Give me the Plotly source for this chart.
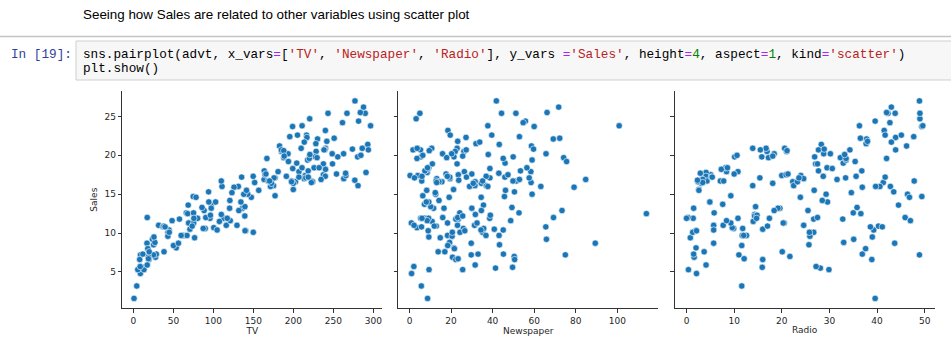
import plotly.graph_objects as go

# ---------------- data (advertising dataset) ----------------
TV = [230.1,44.5,17.2,151.5,180.8,8.7,57.5,120.2,8.6,199.8,
      66.1,214.7,23.8,97.5,204.1,195.4,67.8,281.4,69.2,147.3,
      218.4,237.4,13.2,228.3,62.3,262.9,142.9,240.1,248.8,70.6,
      292.9,112.9,97.2,265.6,95.7,290.7,266.9,74.7,43.1,228,
      202.5,177,293.6,206.9,25.1,175.1,89.7,239.9,227.2,66.9,
      199.8,100.4,216.4,182.6,262.7,198.9,7.3,136.2,210.8,210.7,
      53.5,261.3,239.3,102.7,131.1,69,31.5,139.3,237.4,216.8,
      199.1,109.8,26.8,129.4,213.4,16.9,27.5,120.5,5.4,116,
      76.4,239.8,75.3,68.4,213.5,193.2,76.3,110.7,88.3,109.8,
      134.3,28.6,217.7,250.9,107.4,163.3,197.6,184.9,289.7,135.2,
      222.4,296.4,280.2,187.9,238.2,137.9,25,90.4,13.1,255.4,
      225.8,241.7,175.7,209.6,78.2,75.1,139.2,76.4,125.7,19.4,
      141.3,18.8,224,123.1,229.5,87.2,7.8,80.2,220.3,59.6,
      0.7,265.2,8.4,219.8,36.9,48.3,25.6,273.7,43,184.9,
      73.4,193.7,220.5,104.6,96.2,140.3,240.1,243.2,38,44.7,
      280.7,121,197.6,171.3,187.8,4.1,93.9,149.8,11.7,131.7,
      172.5,85.7,188.4,163.5,117.2,234.5,17.9,206.8,215.4,284.3,
      50,164.5,19.6,168.4,222.4,276.9,248.4,170.2,276.7,165.6,
      156.6,218.5,56.2,287.6,253.8,205,139.5,191.1,286,18.7,
      39.5,75.5,17.2,166.8,149.7,38.2,94.2,177,283.6,232.1]

Radio = [37.8,39.3,45.9,41.3,10.8,48.9,32.8,19.6,2.1,2.6,
         5.8,24,35.1,7.6,32.9,47.7,36.6,39.6,20.5,23.9,
         27.7,5.1,15.9,16.9,12.6,3.5,29.3,16.7,27.1,16,
         28.3,17.4,1.5,20,1.4,4.1,43.8,49.4,26.7,37.7,
         22.3,33.4,27.7,8.4,25.7,22.5,9.9,41.5,15.8,11.7,
         3.1,9.6,41.7,46.2,28.8,49.4,28.1,19.2,49.6,29.5,
         2,42.7,15.5,29.6,42.8,9.3,24.6,14.5,27.5,43.9,
         30.6,14.3,33,5.7,24.6,43.7,1.6,28.5,29.9,7.7,
         26.7,4.1,20.3,44.5,43,18.4,27.5,40.6,25.5,47.8,
         4.9,1.5,33.5,36.5,14,31.6,3.5,21,42.3,41.7,
         4.3,36.3,10.1,17.2,34.3,46.4,11,0.3,0.4,26.9,
         8.2,38,15.4,20.6,46.8,35,14.3,0.8,36.9,16,
         26.8,21.7,2.4,34.6,32.3,11.8,38.9,0,49,12,
         39.6,2.9,27.2,33.5,38.6,47,39,28.9,25.9,43.9,
         17,35.4,33.2,5.7,14.8,1.9,7.3,49,40.3,25.8,
         13.9,8.4,23.3,39.7,21.1,11.6,43.5,1.3,36.9,18.4,
         18.1,35.8,18.1,36.8,14.7,3.4,37.6,5.2,23.6,10.6,
         11.6,20.9,20.1,7.1,3.4,48.9,30.2,7.8,2.3,10,
         2.6,5.4,5.7,43,21.3,45.1,2.1,28.7,13.9,12.1,
         41.1,10.8,4.1,42,35.6,3.7,4.9,9.3,42,8.6]

Newspaper = [69.2,45.1,69.3,58.5,58.4,75,23.5,11.6,1,21.2,
             24.2,4,65.9,7.2,46,52.9,114,55.8,18.3,19.1,
             53.4,23.5,49.6,26.2,18.3,19.5,12.6,22.9,22.9,40.8,
             43.2,38.6,30,0.3,7.4,8.5,5,45.7,35.1,32,
             31.6,38.7,1.8,26.4,43.3,31.5,35.7,18.5,49.9,36.8,
             34.6,3.6,39.6,58.7,15.9,60,41.4,16.6,37.7,9.3,
             21.4,54.7,27.3,8.4,28.9,0.9,2.2,10.2,11,27.2,
             38.7,31.7,19.3,31.3,13.1,89.4,20.7,14.2,9.4,23.1,
             22.3,36.9,32.5,35.6,33.8,65.7,16,63.2,73.4,51.4,
             9.3,33,59,72.3,10.9,52.9,5.9,22,51.2,45.9,
             49.8,100.9,21.4,17.9,5.3,59,29.7,23.2,25.6,5.5,
             56.5,23.2,2.4,10.7,34.5,52.7,25.6,14.8,79.2,22.3,
             46.2,50.4,15.6,12.4,74.2,25.9,50.6,9.2,3.2,43.1,
             8.7,43,2.1,45.1,65.6,8.5,9.3,59.7,20.5,1.7,
             12.9,75.6,37.9,34.4,38.9,9,8.7,44.3,11.9,20.6,
             37,48.7,14.2,37.7,9.5,5.7,50.5,24.3,45.2,34.6,
             30.7,49.3,25.6,7.4,5.4,84.8,21.6,19.4,57.6,6.4,
             18.4,47.4,17,12.8,13.1,41.8,20.3,35.2,23.7,17.6,
             8.3,27.4,29.7,71.8,30,19.6,26.6,18.2,3.7,23.4,
             5.8,6,31.6,3.6,6,13.8,8.1,6.4,66.2,8.7]

Sales = [22.1,10.4,12,16.5,17.9,7.2,11.8,13.2,4.8,15.6,
         12.6,17.4,9.2,13.7,19,22.4,12.5,24.4,11.3,14.6,
         18,17.5,5.6,20.5,9.7,17,15,20.9,18.9,10.5,
         21.4,11.9,13.2,17.4,11.9,17.8,25.4,14.7,10.1,21.5,
         16.6,17.1,20.7,17.9,8.5,16.1,10.6,23.2,19.8,9.7,
         16.4,10.7,22.6,21.2,20.2,23.7,5.5,13.2,23.8,18.4,
         8.1,24.2,20.7,14,16,11.3,11,13.4,18.9,22.3,
         18.3,12.4,8.8,11,17,8.7,6.9,14.2,5.3,11,
         11.8,17.3,11.3,13.6,21.7,20.2,12,16,12.9,16.7,
         14,7.3,19.4,22.2,11.5,16.9,16.7,20.5,25.4,17.2,
         16.7,23.8,19.8,19.7,20.7,15,7.2,12,5.3,19.8,
         18.4,21.8,17.1,20.9,14.6,12.6,12.2,9.4,15.9,6.6,
         15.5,7,16.6,15.2,19.7,10.6,6.6,11.9,24.7,9.7,
         1.6,17.7,5.7,19.6,10.8,11.6,9.5,20.8,9.6,20.7,
         10.9,19.2,20.1,10.4,12.3,10.3,18.2,25.4,10.9,10.1,
         16.1,11.6,16.6,16,20.6,3.2,15.3,10.1,7.3,12.9,
         16.4,13.3,19.9,18,11.9,16.9,8,17.2,17.1,20,
         8.4,17.5,7.6,16.7,16.5,27,20.2,16.7,16.8,17.6,
         15.5,17.2,8.7,26.2,17.6,22.6,10.3,17.3,20.9,6.7,
         10.8,11.9,5.9,19.6,17.3,7.6,14,14.8,25.5,18.4]

x_vars = ["TV", "Newspaper", "Radio"]
x_data = {"TV": TV, "Newspaper": Newspaper, "Radio": Radio}
x_ticks = {"TV": [0, 50, 100, 150, 200, 250, 300],
           "Newspaper": [0, 20, 40, 60, 80, 100],
           "Radio": [0, 10, 20, 30, 40, 50]}
y_ticks = [5, 10, 15, 20, 25]

markdown_text = "Seeing how Sales are related to other variables using scatter plot"
prompt_text = "In [19]:"

# ---------------- layout helpers ----------------
W, H = 951, 339
def px_x(p):
    return p / W
def px_y(p):
    return 1 - p / H

def pad_range(vals):
    lo, hi = min(vals), max(vals)
    m = (hi - lo) * 0.05
    return [lo - m, hi + m]

panel_px = [(122.2, 382.4), (398.3, 658.2), (674.7, 934.6)]
y_dom = [px_y(308.3), px_y(91.0)]

POINT = "#1a76b6"
AX = "#333333"
TICKFONT = dict(family="DejaVu Sans, Verdana, sans-serif", size=9, color="#262626")

fig = go.Figure()
layout = dict(
    width=W, height=H,
    margin=dict(l=0, r=0, t=0, b=0),
    paper_bgcolor="white", plot_bgcolor="white",
    showlegend=False,
    font=dict(family="DejaVu Sans, sans-serif", size=9, color="#262626"),
)

yr = pad_range(Sales)
for i, var in enumerate(x_vars):
    n = "" if i == 0 else str(i + 1)
    fig.add_trace(go.Scatter(
        x=x_data[var], y=Sales, mode="markers",
        xaxis="x" + n, yaxis="y" + n,
        marker=dict(size=6.4, color=POINT, line=dict(width=0.6, color="white")),
        hovertemplate=var + ": %{x}<br>Sales: %{y}<extra></extra>",
    ))
    x0, x1 = panel_px[i]
    layout["xaxis" + n] = dict(
        domain=[px_x(x0), px_x(x1)], anchor="y" + n,
        range=pad_range(x_data[var]), tickvals=x_ticks[var],
        showgrid=False, zeroline=False,
        showline=True, linecolor=AX, linewidth=1,
        ticks="outside", ticklen=3.5, tickwidth=1, tickcolor=AX,
        tickfont=TICKFONT, automargin=False,
        title=dict(text=var, font=TICKFONT, standoff=2),
    )
    layout["yaxis" + n] = dict(
        domain=y_dom, anchor="x" + n,
        range=yr, tickvals=y_ticks,
        showgrid=False, zeroline=False,
        showline=True, linecolor=AX, linewidth=1,
        ticks="outside", ticklen=3.5, tickwidth=1, tickcolor=AX,
        tickfont=TICKFONT, showticklabels=(i == 0), automargin=False,
        title=dict(text="Sales" if i == 0 else "", font=TICKFONT, standoff=5),
    )

# ---------------- notebook chrome ----------------
shapes = [
    dict(type="line", xref="paper", yref="paper", x0=0, x1=1,
         y0=px_y(36.5), y1=px_y(36.5), line=dict(color="#c4c4c4", width=1.6)),
    dict(type="rect", xref="paper", yref="paper", x0=px_x(76), x1=1.02,
         y0=px_y(80), y1=px_y(41), fillcolor="#f7f7f7",
         line=dict(color="#cfcfcf", width=1), layer="below"),
]
layout["shapes"] = shapes

STR = "#BA2121"; OP = "#AA22FF"; NUM = "#008000"
def c(t, col):
    return "<span style='color:%s'>%s</span>" % (col, t)
code1 = ("sns.pairplot(advt, x_vars" + c("=", OP) + "[" + c("'TV'", STR) + ", "
         + c("'Newspaper'", STR) + ", " + c("'Radio'", STR) + "], y_vars " + c("=", OP)
         + c("'Sales'", STR) + ", height" + c("=", OP) + c("4", NUM) + ", aspect"
         + c("=", OP) + c("1", NUM) + ", kind" + c("=", OP) + c("'scatter'", STR) + ")")
code2 = "plt.show()"
MONO = dict(family="Liberation Mono, DejaVu Sans Mono, monospace", size=12.7, color="#000000")

layout["annotations"] = [
    dict(text=markdown_text, xref="paper", yref="paper", x=px_x(80.5), y=px_y(15),
         xanchor="left", yanchor="middle", showarrow=False,
         font=dict(family="Liberation Sans, Arial, sans-serif", size=13.4, color="#000000")),
    dict(text=prompt_text, xref="paper", yref="paper", x=px_x(9), y=px_y(54.3),
         xanchor="left", yanchor="middle", showarrow=False,
         font=dict(family=MONO["family"], size=12.7, color="#303F9F")),
    dict(text=code1, xref="paper", yref="paper", x=px_x(80.5), y=px_y(54.3),
         xanchor="left", yanchor="middle", showarrow=False, font=MONO),
    dict(text=code2, xref="paper", yref="paper", x=px_x(80.5), y=px_y(68.3),
         xanchor="left", yanchor="middle", showarrow=False, font=MONO),
]

fig.update_layout(**layout)
fig.write_html("out.html", config={"displayModeBar": False},
               post_script="document.body.style.margin='0';")
